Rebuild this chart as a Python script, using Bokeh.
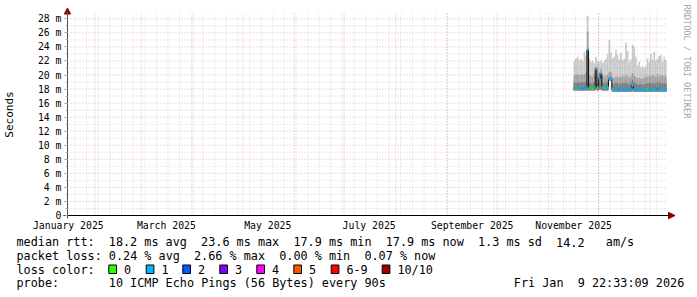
import re
from math import pi
import pandas as pd
from bokeh.plotting import figure
from bokeh.models import (Range1d, FixedTicker, Label, LinearAxis,
                          ColumnDataSource)
from bokeh.embed import file_html
from bokeh.resources import INLINE

# ---------------- data ----------------
first_day = "2025-11-16"          # first daily bin with measurements
median_ms = [
    18.1, 18.1, 18.1, 18.1, 18.1, 18.2, 18.1, 18.2,
    23.6, 18.2, 18.1, 18.1, 18.3, 20.9, 18.2, 19.5,
    20.2, 18.3, 18.2, 18.2, 18.3, 19.4, 19.4, 18.0,
    17.9, 17.9, 18.0, 17.9, 17.9, 17.9, 18.0, 17.9,
    17.9, 18.0, 18.1, 18.5, 18.0, 17.9, 17.9, 17.9,
    17.9, 17.9, 17.9, 17.9, 18.0, 17.9, 17.9, 17.9,
    17.9, 17.9, 18.1, 17.9, 17.9, 17.9, 17.9, 17.9,
]
loss_bucket = [
    1, 0, 1, 1, 1, 1, 1, 1,
    1, 1, 0, 0, 1, 1, 0, 1,
    1, 1, 0, 1, 1, 1, 1, 1,
    1, 1, 1, 1, 1, 1, 1, 1,
    1, 1, 1, 1, 1, 1, 1, 1,
    1, 1, 1, 1, 0, 1, 1, 1,
    1, 1, 1, 1, 1, 1, 1, 1,
]
ping_min = [
    17.8, 17.8, 17.8, 17.8, 17.8, 17.8, 17.8, 17.8,
    17.8, 17.8, 17.8, 17.8, 17.8, 17.9, 17.8, 17.9,
    17.9, 17.8, 17.8, 17.8, 17.8, 19.2, 19.2, 17.6,
    17.6, 17.6, 17.6, 17.6, 17.6, 17.6, 17.6, 17.6,
    17.6, 17.6, 17.6, 17.7, 17.6, 17.6, 17.6, 17.6,
    17.6, 17.6, 17.6, 17.6, 17.6, 17.6, 17.6, 17.6,
    17.6, 17.6, 17.6, 17.6, 17.6, 17.6, 17.6, 17.6,
]
smoke_inner = [
    18.9, 18.9, 19.0, 18.9, 18.9, 19.0, 18.9, 19.1,
    23.6, 18.9, 18.8, 18.8, 19.0, 20.2, 18.9, 19.7,
    20.3, 18.9, 18.8, 18.9, 19.0, 19.8, 19.7, 18.8,
    18.7, 18.9, 18.8, 18.7, 18.8, 18.9, 18.8, 18.9,
    18.8, 18.7, 18.9, 19.3, 18.9, 18.8, 18.6, 18.7,
    18.7, 18.6, 18.7, 18.8, 18.8, 18.9, 18.8, 18.9,
    18.8, 18.7, 19.0, 18.8, 18.8, 18.9, 18.8, 18.8,
]
smoke_mid = [
    19.9, 20.0, 20.1, 19.9, 20.0, 20.0, 20.1, 20.2,
    26.2, 20.0, 19.8, 19.8, 20.1, 21.2, 19.9, 20.4,
    20.9, 19.9, 19.8, 19.9, 20.0, 20.5, 20.4, 19.7,
    19.6, 19.8, 19.7, 19.6, 19.8, 19.9, 19.7, 20.0,
    19.8, 19.6, 19.8, 20.3, 19.9, 19.7, 19.5, 19.6,
    19.5, 19.5, 19.6, 19.7, 19.8, 19.9, 19.8, 20.0,
    19.9, 19.7, 20.1, 19.8, 19.9, 20.0, 19.8, 19.8,
]
ping_max = [
    22.0, 22.4, 22.6, 22.1, 22.3, 22.0, 23.3, 22.8,
    28.4, 22.3, 21.9, 22.0, 21.7, 22.6, 22.0, 21.8,
    22.1, 21.7, 22.0, 22.3, 23.0, 25.0, 23.2, 22.4,
    22.6, 23.6, 22.9, 22.2, 23.2, 22.1, 22.3, 24.6,
    23.4, 21.8, 22.2, 24.3, 24.0, 22.6, 21.4, 21.9,
    21.1, 21.3, 21.0, 21.3, 22.4, 21.8, 23.0, 22.2,
    23.3, 22.0, 22.3, 22.7, 22.9, 21.9, 22.6, 22.1,
]

y_ticks = [0, 2, 4, 6, 8, 10, 12, 14, 16, 18, 20, 22, 24, 26, 28]
y_tick_labels = ["0", "2 m", "4 m", "6 m", "8 m", "10 m", "12 m", "14 m",
                 "16 m", "18 m", "20 m", "22 m", "24 m", "26 m", "28 m"]
x_tick_dates = ["2025-01-16", "2025-03-16", "2025-05-16",
                "2025-07-16", "2025-09-16", "2025-11-16"]
x_tick_labels = ["January 2025", "March 2025", "May 2025",
                 "July 2025", "September 2025", "November 2025"]

loss_labels = ["0", "1", "2", "3", "4", "5", "6-9", "10/10"]
loss_colors = ["#26ff00", "#00b8ff", "#0059ff", "#7e00ff",
               "#ff00ff", "#ff5500", "#ff0000", "#a00000"]

legend_rtt = "median rtt:  18.2 ms avg  23.6 ms max  17.9 ms min  17.9 ms now  1.3 ms sd  14.2   am/s"
legend_loss = "packet loss: 0.24 % avg  2.66 % max  0.00 % min  0.07 % now"
legend_color_title = "loss color:"
legend_probe = "probe:       10 ICMP Echo Pings (56 Bytes) every 90s"
legend_date = "Fri Jan  9 22:33:09 2026"
y_title = "Seconds"
watermark = "RRDTOOL / TOBI OETIKER"

# ---------------- helpers ----------------
def ms(t):
    return pd.Timestamp(t).value / 1e6

FONT = "DejaVu Sans Mono"
FL, FT, FW, FH = 67, 15, 600, 200          # graph area placement in the canvas
W, H = 697, 297
CW = 7.1                                   # monospace advance of legend font
x_start = ms("2025-01-15 12:00")
x_end = ms("2026-01-11 12:00")
y_top = 28.47

def dx(x):  # canvas pixel x -> data x
    return x_start + (x - FL) / FW * (x_end - x_start)

def dy(y):  # canvas pixel y -> data y
    return (FT + FH - y) / FH * y_top

days = pd.date_range(first_day, periods=len(median_ms), freq="D")
left = [ms(d) for d in days]
right = [ms(d + pd.Timedelta(days=1)) for d in days]

src = ColumnDataSource(dict(
    left=left, right=right, med=median_ms, lo=ping_min,
    s1=smoke_inner, s2=smoke_mid, hi=ping_max,
    col=[loss_colors[i] for i in loss_bucket],
))

# the frame fills the whole canvas; axes sit at fixed data locations
p = figure(width=W, height=H, output_backend="svg", toolbar_location=None,
           x_range=Range1d(dx(0), dx(W)), y_range=Range1d(dy(H), dy(0)),
           x_axis_location=None, y_axis_location=None,
           min_border=0, min_border_left=0, min_border_right=0,
           min_border_top=0, min_border_bottom=0)
p.outline_line_color = None
p.background_fill_color = "white"
p.border_fill_color = "white"
p.xgrid.visible = False
p.ygrid.visible = False

# smoke
p.quad(left="left", right="right", bottom="lo", top="hi", source=src,
       fill_color="#cacaca", line_color=None)
p.quad(left="left", right="right", bottom="lo", top="s2", source=src,
       fill_color="#a4a4a4", line_color=None)
p.quad(left="left", right="right", bottom="lo", top="s1", source=src,
       fill_color="#7e7e7e", line_color=None)
# median connector + loss coloured median
p.step(x=left + [right[-1]], y=median_ms + [median_ms[-1]], mode="after",
       line_color="#101010", line_width=1)
p.segment(x0="left", x1="right", y0="med", y1="med", source=src,
          line_color="col", line_width=2.4)

# grid, drawn over the graph as rrdtool does
month_starts = [ms(d) for d in pd.date_range("2025-02-01", "2026-01-01", freq="MS")]
week_starts = [ms(d) for d in pd.date_range("2025-01-20", "2026-01-11", freq="7D")]
minor_y = [v for v in range(1, 29) if v not in y_ticks]
g_top = dy(13)
p.segment(x0=week_starts, x1=week_starts, y0=[0] * len(week_starts),
          y1=[g_top] * len(week_starts), line_color="#8c8c8c", line_alpha=0.35,
          line_dash="1 2", line_width=1)
p.segment(x0=[x_start] * len(minor_y), x1=[x_end] * len(minor_y), y0=minor_y,
          y1=minor_y, line_color="#8c8c8c", line_alpha=0.35, line_dash="1 2",
          line_width=1)
p.segment(x0=month_starts, x1=month_starts, y0=[0] * len(month_starts),
          y1=[g_top] * len(month_starts), line_color="#d03c3c", line_alpha=0.38,
          line_dash="1 2", line_width=1)
p.segment(x0=[x_start] * (len(y_ticks) - 1), x1=[x_end] * (len(y_ticks) - 1),
          y0=y_ticks[1:], y1=y_ticks[1:], line_color="#d03c3c", line_alpha=0.38,
          line_dash="1 2", line_width=1)

# axes
xa = LinearAxis(fixed_location=0, bounds=(dx(63), dx(669)))
xa.ticker = FixedTicker(ticks=[ms(d) for d in x_tick_dates])
xa.major_label_overrides = {ms(d): t for d, t in zip(x_tick_dates, x_tick_labels)}
xa.major_tick_out = 0
xa.major_tick_in = 0
xa.minor_tick_out = 0
xa.minor_tick_in = 0
xa.major_label_standoff = 4
xa.major_label_text_font = FONT
xa.major_label_text_font_size = "9.8px"
xa.major_label_text_color = "black"
xa.axis_line_color = "black"
p.add_layout(xa, "below")

ya = LinearAxis(fixed_location=x_start, bounds=(dy(218), dy(10)))
ya.ticker = FixedTicker(ticks=y_ticks, minor_ticks=list(range(0, 29)))
ya.major_label_overrides = dict(zip(y_ticks, y_tick_labels))
ya.major_tick_out = 3
ya.major_tick_in = 0
ya.minor_tick_out = 2
ya.minor_tick_in = 0
ya.major_tick_line_color = "#909090"
ya.minor_tick_line_color = "#b0b0b0"
ya.major_label_standoff = 3
ya.major_label_text_font = FONT
ya.major_label_text_font_size = "9.8px"
ya.major_label_text_color = "black"
ya.axis_line_color = "#505050"
ya.axis_label = y_title
ya.axis_label_text_font = FONT
ya.axis_label_text_font_size = "11px"
ya.axis_label_text_font_style = "normal"
ya.axis_label_text_color = "black"
ya.axis_label_standoff = 19
p.add_layout(ya, "left")

# arrow heads
HEAD = "#8b0000"
p.patches(xs=[[dx(668), dx(674.5), dx(668)], [dx(63.8), dx(67), dx(70.2)]],
          ys=[[dy(211.8), dy(215), dy(218.2)], [dy(13.5), dy(7.5), dy(13.5)]],
          fill_color=HEAD, line_color=HEAD, line_width=1)

# legend texts (monospace columns kept by placing each word group at its column)
def text(t, x, y, size="11.8px", color="black", align="left", angle=0.0):
    p.add_layout(Label(x=dx(x), y=dy(y), text=t, text_font=FONT,
                       text_font_size=size, text_color=color,
                       text_align=align, text_baseline="middle", angle=angle))

def mono_line(s, x0, y):
    for m in re.finditer(r"\S+(?: \S+)*", s):
        text(m.group(0), x0 + m.start() * CW, y)

mono_line(legend_rtt, 16, 241.7)
mono_line(legend_loss, 16, 255.4)
mono_line(legend_color_title, 16, 269)
mono_line(legend_probe, 16, 282.7)
mono_line(legend_date, 513.3, 282.7)

box_left = [108.3, 145.7, 182.3, 219.3, 256.3, 293.3, 330.7, 381.7]
p.quad(left=[dx(b) for b in box_left], right=[dx(b + 7.7) for b in box_left],
       top=[dy(264.5)] * len(box_left), bottom=[dy(273.0)] * len(box_left),
       fill_color=loss_colors, line_color="black", line_width=1)
for bx, lab in zip(box_left, loss_labels):
    text(lab, bx + 15.2, 269)

# vertical watermark
text(watermark, 686.5, 4, size="8.6px", color="#a8a8a8", angle=-pi / 2)

open("out.html", "w").write(file_html(p, INLINE))
